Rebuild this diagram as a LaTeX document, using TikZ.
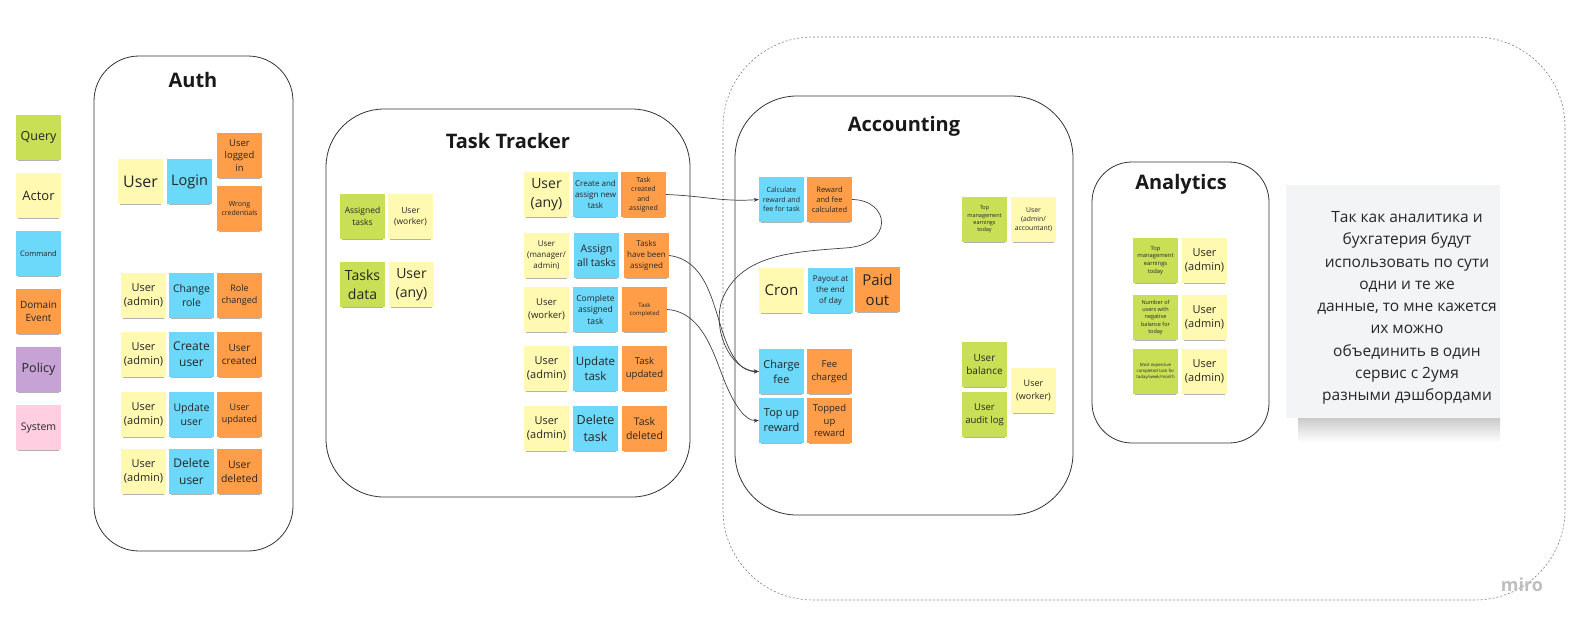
\documentclass[tikz,border=0pt]{standalone}
\usepackage{fontspec}
\setmainfont{Open Sans}
\usetikzlibrary{shadows,arrows.meta}
\definecolor{cq}{HTML}{C9DF56}
\definecolor{ca}{HTML}{FFF9B1}
\definecolor{cc}{HTML}{6CD8FA}
\definecolor{ce}{HTML}{FF9D48}
\definecolor{cp}{HTML}{C6A2D5}
\definecolor{cs}{HTML}{FFCEE0}
\definecolor{notebg}{HTML}{F3F4F6}
\newcommand\stickynote[6]{%
  \pgfmathsetmacro\stkbls{1.35*#5}%
  \node[sticky, fill=#4, font=\fontsize{#5}{\stkbls}\selectfont] (#1) at ({#2+22.5},{#3+22.5}) {#6};}
\tikzset{
  sticky/.style={minimum width=45pt, minimum height=45pt, inner sep=0pt, align=center, text=black!85,
    drop shadow={shadow xshift=0pt, shadow yshift=-4pt, shadow scale=0.9, opacity=0.3, fill=black}},
  frame/.style={draw=black!80, line width=0.8pt},
  ttl/.style={font=\fontsize{20}{24}\selectfont\bfseries, text=black!90},
  flow/.style={draw=black!75, line width=0.7pt, -{Stealth[length=5pt,width=4pt]}}
}
\begin{document}
\begin{tikzpicture}[x=1pt,y=-1pt]
\useasboundingbox (0,0) rectangle (1585,630);
\fill[white] (0,0) rectangle (1585,630);

% outer dashed group
\draw[draw=black!50, line width=0.6pt, dash pattern=on 2pt off 2pt, rounded corners=90pt] (723,37) rectangle (1565,600);

% containers
\draw[frame, rounded corners=45pt] (94,56) rectangle (293,551);
\draw[frame, rounded corners=58pt] (326,109) rectangle (690,497);
\draw[frame, rounded corners=62pt] (735,96) rectangle (1073,515);
\draw[frame, rounded corners=40pt] (1092,162) rectangle (1269,443);

\node[ttl] (tauth) at (193,80) {Auth};
\node[ttl] (ttask) at (508,141) {Task Tracker};
\node[ttl] (tacc) at (904,126) {Accounting};
\node[ttl] (tana) at (1181,184) {Analytics};

% legend
\stickynote{lq}{16}{115}{cq}{12.5}{Query}
\stickynote{la}{16}{173}{ca}{13}{Actor}
\stickynote{lc}{16}{231}{cc}{7.5}{Command}
\stickynote{le}{16}{289}{ce}{10}{Domain\\Event}
\stickynote{lp}{16}{347}{cp}{12.5}{Policy}
\stickynote{ls}{16}{405}{cs}{10.5}{System}

% Auth
\stickynote{auser}{118}{159}{ca}{16}{User}
\stickynote{alogin}{167}{159}{cc}{14.5}{Login}
\stickynote{alogged}{217}{133}{ce}{9.5}{User\\logged\\in}
\stickynote{awrong}{217}{186}{ce}{7}{Wrong\\credentials}
\stickynote{ua1}{121}{273}{ca}{11}{User\\(admin)}
\stickynote{crole}{169}{273}{cc}{10.5}{Change\\role}
\stickynote{rchg}{217}{273}{ce}{9}{Role\\changed}
\stickynote{ua2}{121}{332}{ca}{11}{User\\(admin)}
\stickynote{cuser}{169}{332}{cc}{12}{Create\\user}
\stickynote{ucre}{217}{332}{ce}{10}{User\\created}
\stickynote{ua3}{121}{392}{ca}{11}{User\\(admin)}
\stickynote{uuser}{169}{392}{cc}{10.5}{Update\\user}
\stickynote{uupd}{217}{392}{ce}{9}{User\\updated}
\stickynote{ua4}{121}{449}{ca}{11}{User\\(admin)}
\stickynote{duser}{169}{449}{cc}{12}{Delete\\user}
\stickynote{udel}{217}{449}{ce}{10.5}{User\\deleted}

% Task tracker
\stickynote{qassigned}{340}{194}{cq}{8.5}{Assigned\\tasks}
\stickynote{tuw}{388}{194}{ca}{8.5}{User\\(worker)}
\stickynote{qtasks}{340}{262}{cq}{14}{Tasks\\data}
\stickynote{tuany}{389}{262}{ca}{14}{User\\(any)}
\stickynote{tu1}{524}{172}{ca}{14}{User\\(any)}
\stickynote{tcreate}{573}{172}{cc}{8}{Create and\\assign new\\task}
\stickynote{tcreated}{621}{172}{ce}{7}{Task\\created\\and\\assigned}
\stickynote{tu2}{524}{233}{ca}{8}{User\\(manager/\\admin)}
\stickynote{tassign}{574}{233}{cc}{10.5}{Assign\\all tasks}
\stickynote{tassigned}{624}{233}{ce}{8}{Tasks\\have been\\assigned}
\stickynote{tu3}{524}{287}{ca}{9.5}{User\\(worker)}
\stickynote{tcomplete}{573}{287}{cc}{8.5}{Complete\\assigned\\task}
\stickynote{tcompleted}{622}{287}{ce}{6}{Task\\completed}
\stickynote{tu4}{524}{346}{ca}{11}{User\\(admin)}
\stickynote{tupdate}{573}{346}{cc}{11.5}{Update\\task}
\stickynote{tupdated}{622}{346}{ce}{9.5}{Task\\updated}
\stickynote{tu5}{524}{406}{ca}{11}{User\\(admin)}
\stickynote{tdelete}{573}{406}{cc}{12.5}{Delete\\task}
\stickynote{tdeleted}{622}{406}{ce}{10.5}{Task\\deleted}

% Accounting
\stickynote{calc}{759}{177}{cc}{7}{Calculate\\reward and\\fee for task}
\stickynote{rcalc}{807}{177}{ce}{7.5}{Reward\\and fee\\calculated}
\stickynote{cron}{759}{268}{ca}{15}{Cron}
\stickynote{payout}{808}{268}{cc}{8}{Payout at\\the end\\of day}
\stickynote{paid}{855}{267}{ce}{15}{Paid\\out}
\stickynote{charge}{759}{349}{cc}{11}{Charge\\fee}
\stickynote{charged}{807}{349}{ce}{9.5}{Fee\\charged}
\stickynote{topup}{759}{398}{cc}{11}{Top up\\reward}
\stickynote{topped}{807}{398}{ce}{9.5}{Topped\\up\\reward}
\stickynote{atop}{962}{197}{cq}{5.5}{Top\\management\\earnings\\today}
\stickynote{aacc}{1011}{197}{ca}{6.8}{User\\(admin/\\accountant)}
\stickynote{abal}{962}{342}{cq}{10}{User\\balance}
\stickynote{aaudit}{962}{392}{cq}{9.5}{User\\audit log}
\stickynote{awork}{1011}{368}{ca}{9}{User\\(worker)}

% Analytics
\stickynote{ntop}{1133}{238}{cq}{5.8}{Top\\management\\earnings\\today}
\stickynote{nu1}{1182}{238}{ca}{11}{User\\(admin)}
\stickynote{nneg}{1133}{295}{cq}{5.5}{Number of\\users with\\negative\\balance for\\today}
\stickynote{nu2}{1182}{295}{ca}{11}{User\\(admin)}
\stickynote{nexp}{1133}{349}{cq}{4.3}{Most expensive\\completed task for\\today/week/month}
\stickynote{nu3}{1182}{349}{ca}{11}{User\\(admin)}

% note
\shade[top color=black!40, bottom color=white, opacity=0.6] (1298,414) rectangle (1500,442);
\fill[notebg] (1286,185) rectangle (1500,418);
\node[font=\fontsize{15.5}{22.3}\selectfont, text=black!85, align=center] (note) at (1407,308)
{Так как аналитика и\\бухгатерия будут\\использовать по сути\\одни и те же\\данные, то мне кажется\\их можно\\объединить в один\\сервис с 2умя\\разными дэшбордами};

\node[font=\fontsize{18}{20}\selectfont\bfseries, text=black!25] (miro) at (1522,585) {miro};

% connectors
\draw[flow] (tcreated.east) .. controls (705,196) and (722,202) .. (calc.west);
\draw[flow] (rcalc.east) .. controls (890,200) and (895,245) .. (845,248) .. controls (790,252) and (740,255) .. (722,300) .. controls (712,330) and (730,370) .. (charge.west);
\draw[flow] (tassigned.east) .. controls (705,260) and (712,300) .. (722,330) .. controls (730,355) and (740,372) .. (charge.west);
\draw[flow] (tcompleted.east) .. controls (705,312) and (715,360) .. (727,387) .. controls (735,405) and (745,421) .. (topup.west);
\end{tikzpicture}
\end{document}
